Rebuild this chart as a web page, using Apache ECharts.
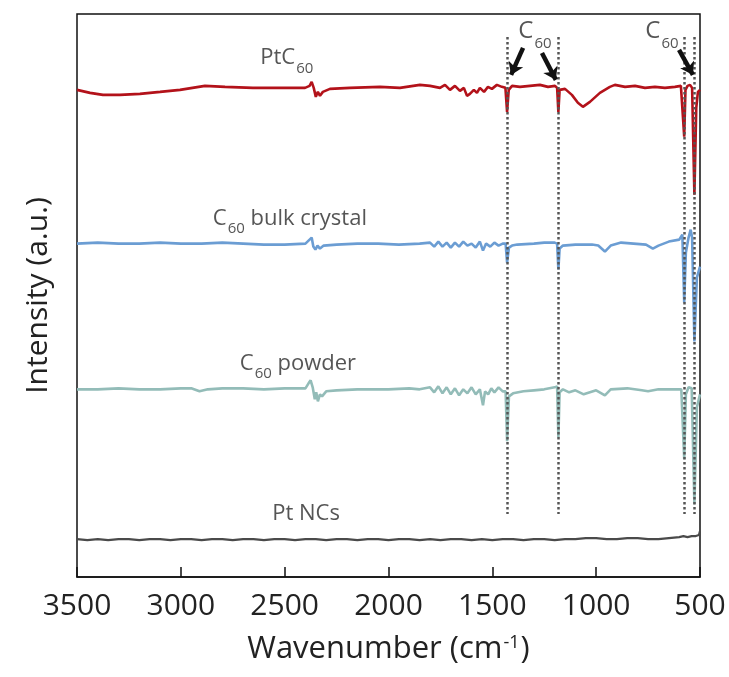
<!DOCTYPE html>
<html><head><meta charset="utf-8">
<script src="https://cdn.jsdelivr.net/npm/echarts@6/dist/echarts.min.js"></script>
<style>html,body{margin:0;padding:0;background:#fff}#c{width:729px;height:677px}</style>
</head><body><div id="c"></div>
<script>
// ---- data (wavenumber cm^-1, intensity a.u., traces offset) ----
const xTicks = [3500, 3000, 2500, 2000, 1500, 1000, 500];
const c60Bands = [1429, 1182, 576, 527];
const seriesNames = ['PtC60', 'C60 bulk crystal', 'C60 powder', 'Pt NCs'];

const ptc60 = [[3500,488],[3437,485],[3375,483],[3293,483],[3197,484],[3100,486],[3004,488],[2884,492],[2787,491],[2653,490],[2523,490],[2402,490],[2380,492],[2370,496],[2360,490],[2350,481],[2340,486],[2330,482],[2316,486],[2282,489],[2186,490],[2041,491],[1945,490],[1849,493],[1800,492],[1752,490],[1728,493],[1704,488],[1680,492],[1656,487],[1637,490],[1622,482],[1608,484],[1589,488],[1574,485],[1560,490],[1540,486],[1521,491],[1502,489],[1478,493],[1454,491],[1437,490],[1429,466],[1421,488],[1405,492],[1367,491],[1319,492],[1271,493],[1232,491],[1198,492],[1188,490],[1182,466],[1176,488],[1150,489],[1117,483],[1088,475],[1064,471],[1030,476],[982,485],[934,491],[910,493],[861,491],[813,492],[765,490],[717,491],[669,490],[621,491],[592,492],[583,490],[576,441],[570,488],[560,492],[548,493],[538,490],[527,383],[518,470],[510,486],[500,488]];

const bulkCrystal = [[3500,334],[3400,335],[3300,334],[3200,334],[3100,335],[3000,334],[2900,334],[2800,335],[2700,334],[2600,333],[2500,333],[2400,334],[2380,338],[2370,340],[2362,331],[2352,328],[2342,332],[2330,329],[2312,332],[2250,333],[2150,334],[2050,334],[1950,333],[1850,334],[1800,335],[1780,331],[1760,336],[1740,331],[1720,335],[1700,330],[1680,335],[1660,331],[1640,336],[1620,332],[1600,334],[1580,330],[1560,336],[1545,327],[1530,334],[1510,331],[1490,335],[1470,332],[1450,334],[1436,334],[1429,315],[1420,330],[1405,332],[1380,333],[1300,334],[1250,335],[1200,335],[1188,334],[1182,308],[1176,329],[1160,332],[1100,333],[1020,333],[990,332],[958,326],[930,332],[880,335],[820,334],[760,333],[727,329],[700,332],[650,336],[600,338],[585,343],[576,275],[568,325],[555,340],[545,348],[538,340],[527,236],[515,300],[500,311]];

const powder = [[3500,188],[3400,188],[3300,189],[3200,188],[3100,188],[3000,189],[2950,189],[2910,186],[2870,188],[2800,189],[2700,189],[2600,188],[2500,189],[2400,189],[2385,194],[2375,197],[2365,190],[2355,178],[2348,185],[2340,176],[2330,183],[2320,181],[2300,186],[2250,187],[2150,188],[2000,188],[1900,189],[1850,188],[1800,190],[1780,185],[1760,191],[1740,184],[1720,190],[1700,183],[1680,189],[1660,182],[1640,188],[1620,184],[1600,190],[1580,183],[1560,188],[1545,172],[1535,186],[1520,183],[1505,189],[1490,185],[1470,190],[1450,186],[1436,186],[1429,136],[1420,181],[1400,184],[1350,186],[1300,187],[1250,188],[1200,190],[1188,191],[1182,140],[1176,185],[1160,188],[1130,185],[1100,187],[1060,183],[1030,185],[1000,187],[958,182],[930,188],[850,189],[780,187],[750,186],[700,188],[650,188],[590,188],[583,187],[576,118],[568,183],[555,190],[540,189],[527,73],[515,170],[500,183]];

const ptNCs = [[3500,38],[3450,37],[3400,38],[3350,37],[3300,38],[3250,38],[3200,37],[3150,38],[3100,38],[3050,37],[3000,38],[2950,38],[2900,37],[2850,38],[2800,38],[2750,37],[2700,38],[2650,38],[2600,37],[2550,38],[2500,38],[2450,37],[2400,38],[2350,38],[2300,37],[2250,38],[2200,38],[2150,37],[2100,38],[2050,38],[2000,37],[1950,38],[1900,38],[1850,37],[1800,38],[1750,37],[1700,38],[1650,38],[1600,37],[1550,38],[1500,37],[1450,38],[1400,38],[1350,37],[1300,38],[1250,38],[1200,37],[1150,38],[1100,38],[1050,39],[1000,39],[950,38],[900,38],[850,39],[800,39],[750,38],[700,38],[650,39],[600,40],[580,41],[560,40],[540,41],[520,41],[505,42],[500,46]];

// ---- annotations (data coordinates) ----
const labelTexts = ['{a|PtC}{s|60}', '{a|C}{s|60}{a| bulk crystal}', '{a|C}{s|60}{a| powder}', '{a|Pt NCs}', '{c|C}{t|60}', '{c|C}{t|60}'];
const labelX = [2490, 2475, 2436, 2397, 1295, 683];
const labelY = [517, 356, 211, 60, 544, 544];
const arrowFrom = [[1352,530],[1261,525],[601,528]];
const arrowTo = [[1410,503],[1194,498],[534,503]];
const bandTop = 541, bandBottom = 63;

const FONT = '"Open Sans", "DejaVu Sans", sans-serif';
const TXT = '#2b2b2b';
const rich = {
  a: {fontFamily: FONT, fontSize: 22, color: TXT, lineHeight: 28, verticalAlign: 'top'},
  s: {fontFamily: FONT, fontSize: 15, color: TXT, lineHeight: 15, verticalAlign: 'top', padding: [14, 0, 0, 1]},
  c: {fontFamily: FONT, fontSize: 24, color: TXT, lineHeight: 30, verticalAlign: 'top'},
  t: {fontFamily: FONT, fontSize: 15, color: TXT, lineHeight: 15, verticalAlign: 'top', padding: [17, 0, 0, 1]}
};

const colors = ['#b3121a', '#6b9dd3', '#93bcb8', '#4a4a4a'];
const datasets = [ptc60, bulkCrystal, powder, ptNCs];

const chart = echarts.init(document.getElementById('c'), null, {renderer: 'canvas'});
const series = datasets.map((d, i) => ({
  name: seriesNames[i], type: 'line', data: d, showSymbol: false, symbol: 'none',
  lineStyle: {color: colors[i], width: i === 3 ? 2.2 : 2.6}, z: 3, silent: true
}));
series.push({
  name: 'bands', type: 'line', data: [], z: 6, silent: true,
  markLine: {
    silent: true, symbol: ['none', 'none'], label: {show: false},
    lineStyle: {type: [2.5, 2.5], color: '#555', width: 2.5},
    data: c60Bands.map(b => [{coord: [b, bandTop]}, {coord: [b, bandBottom]}])
  }
});
series.push({
  name: 'arrows', type: 'line', data: [], z: 7, silent: true,
  markLine: {
    silent: true, symbol: ['none', 'arrow'], symbolSize: [12, 12], label: {show: false},
    lineStyle: {type: 'solid', color: '#111', width: 4.5},
    data: arrowFrom.map((f, i) => [{coord: f}, {coord: arrowTo[i]}])
  }
});
series.push({
  name: 'labels', type: 'scatter', symbolSize: 0, z: 8, silent: true,
  data: labelX.map((x, i) => [x, labelY[i], labelTexts[i]]),
  label: {show: true, position: 'inside', formatter: p => p.data[2], rich: rich}
});

chart.setOption({
  animation: false,
  backgroundColor: '#fff',
  grid: {left: 77, right: 29, top: 14, bottom: 99, show: true, borderColor: '#111', borderWidth: 1.5, containLabel: false},
  xAxis: {
    type: 'value', inverse: true, min: 500, max: 3500, interval: 500,
    axisLine: {show: true, lineStyle: {color: '#111', width: 1.5}},
    axisTick: {show: true, inside: true, length: 10, lineStyle: {color: '#111', width: 1.5}},
    axisLabel: {fontFamily: FONT, fontSize: 30, color: '#222', margin: 14,
      formatter: v => xTicks.indexOf(v) >= 0 ? String(v) : ''},
    splitLine: {show: false},
    name: '{w|Wavenumber (cm}{e|-1}{w|)}', nameLocation: 'middle', nameGap: 57,
    nameTextStyle: {rich: {
      w: {fontFamily: FONT, fontSize: 31, color: '#222', lineHeight: 31, verticalAlign: 'bottom'},
      e: {fontFamily: FONT, fontSize: 18, color: '#222', lineHeight: 18, verticalAlign: 'top', padding: [0, 1, 20, 1]}
    }}
  },
  yAxis: {
    type: 'value', min: 0, max: 564,
    axisLine: {show: false}, axisTick: {show: false}, axisLabel: {show: false}, splitLine: {show: false},
    name: 'Intensity (a.u.)', nameLocation: 'middle', nameGap: 24,
    nameTextStyle: {fontFamily: FONT, fontSize: 30, color: '#222'}
  },
  series: series
});
</script>
</body></html>
